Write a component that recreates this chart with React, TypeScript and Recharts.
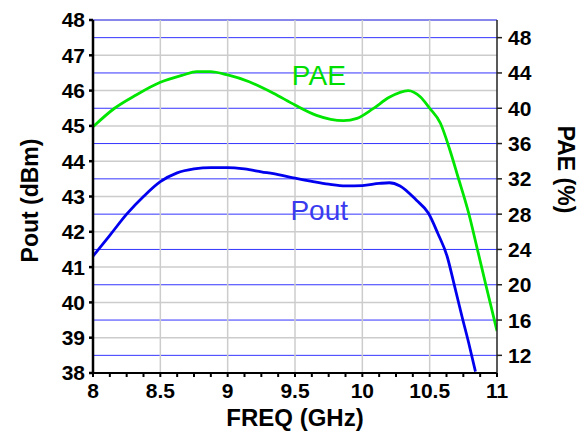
import {
  CartesianGrid,
  Line,
  LineChart,
  ReferenceDot,
  ReferenceLine,
  XAxis,
  YAxis,
} from "recharts";

// Output power vs frequency (left axis, dBm)
const poutFreq = [
  8.0, 8.125, 8.25, 8.375, 8.5, 8.625, 8.75, 8.875, 9.0, 9.125, 9.25, 9.375, 9.5, 9.625,
  9.75, 9.875, 10.0, 10.125, 10.2, 10.28, 10.4, 10.49, 10.56, 10.63, 10.68, 10.74, 10.79, 10.84,
];
const poutValues = [
  41.31, 41.9, 42.5, 43.0, 43.42, 43.67, 43.78, 43.82, 43.82, 43.78, 43.7, 43.62, 43.52, 43.43,
  43.35, 43.3, 43.31, 43.37, 43.39, 43.3, 42.9, 42.53, 41.96, 41.3, 40.54, 39.6, 38.85, 38.04,
];

// Power-added efficiency vs frequency (right axis, %)
const paeFreq = [
  8.0, 8.16, 8.32, 8.5, 8.67, 8.77, 8.87, 9.0, 9.16, 9.34, 9.5, 9.66, 9.86, 9.96, 10.08,
  10.2, 10.34, 10.43, 10.5, 10.58, 10.65, 10.71, 10.79, 10.85, 10.92, 11.0,
];
const paeValues = [
  37.9, 40.0, 41.5, 42.94, 43.77, 44.15, 44.15, 43.77, 43.0, 41.7, 40.37, 39.2, 38.6, 38.86, 39.95,
  41.24, 42.0, 41.3, 40.0, 38.3, 35.27, 32.24, 28.1, 24.3, 19.8, 14.76,
];

const freqTicks = [
  8, 8.125, 8.25, 8.375, 8.5, 8.625, 8.75, 8.875, 9, 9.125, 9.25, 9.375, 9.5, 9.625, 9.75, 9.875,
  10, 10.125, 10.25, 10.375, 10.5, 10.625, 10.75, 10.875, 11,
];
const freqGrid = [8.5, 9, 9.5, 10, 10.5];
const poutTicks = [38, 39, 40, 41, 42, 43, 44, 45, 46, 47, 48];
const paeTicks = [12, 16, 20, 24, 28, 32, 36, 40, 44, 48];

const poutData = poutFreq.map((freq, i) => ({ freq, pout: poutValues[i] }));
const paeData = paeFreq.map((freq, i) => ({ freq, pae: paeValues[i] }));

const FONT = "'Liberation Sans', Arial, sans-serif";
const tickStyle = { fill: "#000", fontSize: 21, fontWeight: 700, fontFamily: FONT };
const titleStyle = { fill: "#000", fontSize: 24, fontWeight: 700, fontFamily: FONT, textAnchor: "middle" as const };

// only label the half-GHz ticks, the rest are minor marks
const freqLabel = (v: number) => (Math.abs(v * 2 - Math.round(v * 2)) < 1e-6 ? String(v) : "");

type TitleProps = {
  viewBox?: { x: number; y: number; width: number; height: number };
  title: string;
  turn: number;
  edge: number; // distance of the text centre from the axis box's outer edge
  nudge: number; // vertical shift from the plot middle
};

// rotated axis title placed inside the y-axis box
const AxisTitle = ({ viewBox, title, turn, edge, nudge }: TitleProps) => {
  if (!viewBox) return null;
  const cx = turn < 0 ? viewBox.x + edge : viewBox.x + viewBox.width - edge;
  const cy = viewBox.y + viewBox.height / 2 + nudge;
  return (
    <text
      x={cx}
      y={cy}
      transform={`rotate(${turn}, ${cx}, ${cy})`}
      textAnchor="middle"
      dominantBaseline="central"
      fill="#000"
      fontSize={23}
      fontWeight={700}
      fontFamily={FONT}
    >
      {title}
    </text>
  );
};

export default function App() {
  return (
    <div style={{ position: "absolute", left: 0, top: 0, width: 582, height: 432, background: "#fff", fontFamily: FONT }}>
      <LineChart width={582} height={432} margin={{ top: 20, right: 0, bottom: 0, left: 0 }}>
        <CartesianGrid yAxisId="left" vertical={false} stroke="#cccccc" strokeWidth={1.5} />
        <CartesianGrid yAxisId="right" vertical={false} stroke="#3434ff" strokeWidth={1} />
        {freqGrid.map((f) => (
          <ReferenceLine key={f} x={f} yAxisId="left" stroke="#cccccc" strokeWidth={1.5} />
        ))}
        <XAxis
          dataKey="freq"
          type="number"
          domain={[8, 11]}
          ticks={freqTicks}
          interval={0}
          allowDataOverflow
          tickFormatter={freqLabel}
          height={59}
          tickSize={4}
          tickMargin={6}
          tick={tickStyle}
          stroke="#000"
          strokeWidth={2}
          label={{ value: "FREQ (GHz)", position: "insideBottom", offset: 6, style: titleStyle }}
        />
        <YAxis
          yAxisId="left"
          orientation="left"
          type="number"
          domain={[38, 48]}
          ticks={poutTicks}
          interval={0}
          allowDataOverflow
          width={93}
          tickSize={4}
          tickMargin={4}
          tick={tickStyle}
          stroke="#000"
          strokeWidth={2.5}
          label={<AxisTitle title="Pout (dBm)" turn={-90} edge={30} nudge={4} />}
        />
        <YAxis
          yAxisId="right"
          orientation="right"
          type="number"
          domain={[10, 50]}
          ticks={paeTicks}
          interval={0}
          allowDataOverflow
          width={85}
          tickSize={5}
          tickMargin={6}
          tick={{ ...tickStyle, textAnchor: "start" }}
          stroke="#222"
          strokeWidth={1.5}
          label={<AxisTitle title="PAE (%)" turn={90} edge={16} nudge={-27} />}
        />
        <Line
          data={poutData}
          dataKey="pout"
          yAxisId="left"
          type="monotone"
          stroke="#0000ee"
          strokeWidth={2.8}
          dot={false}
          isAnimationActive={false}
        />
        <Line
          data={paeData}
          dataKey="pae"
          yAxisId="right"
          type="monotone"
          stroke="#00e600"
          strokeWidth={2.8}
          dot={false}
          isAnimationActive={false}
        />
        <ReferenceDot
          x={9.677}
          y={46.43}
          yAxisId="left"
          r={0}
          stroke="none"
          label={{ value: "PAE", position: "center", fill: "#00dd00", fontSize: 28, fontFamily: FONT }}
        />
        <ReferenceDot
          x={9.68}
          y={42.62}
          yAxisId="left"
          r={0}
          stroke="none"
          label={{ value: "Pout", position: "center", fill: "#3a3aee", fontSize: 28, fontFamily: FONT }}
        />
      </LineChart>
    </div>
  );
}
